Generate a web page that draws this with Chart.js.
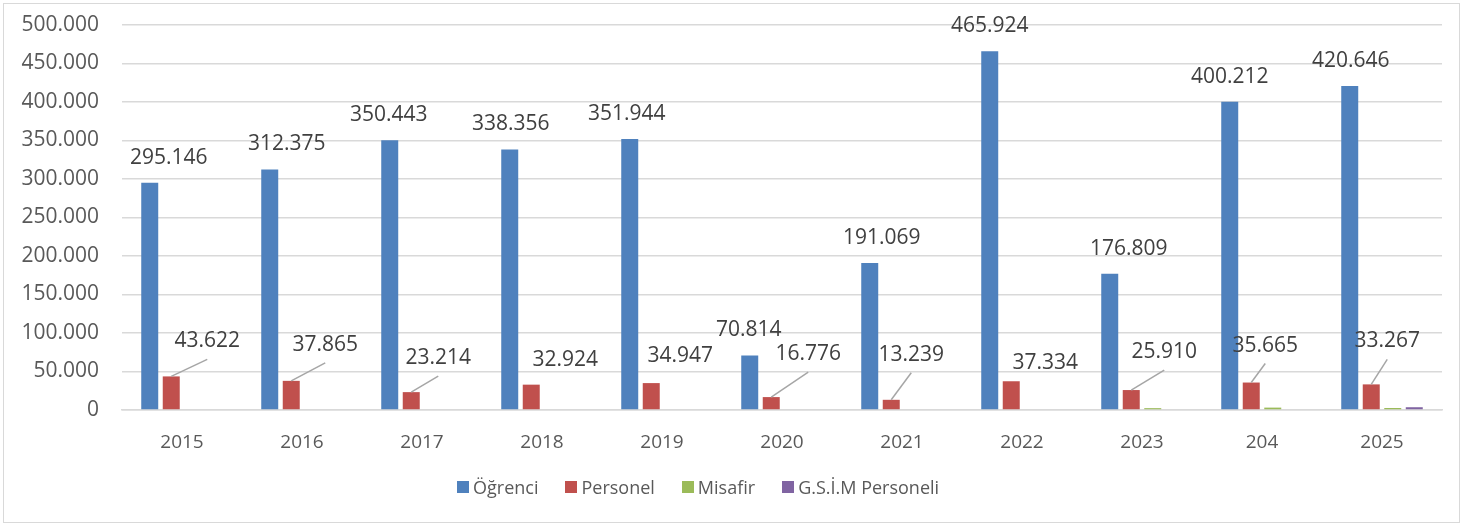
<!DOCTYPE html>
<html>
<head>
<meta charset="utf-8">
<script src="https://cdn.jsdelivr.net/npm/chart.js@4"></script>
<style>
    body { margin: 0; background: #fff; }
    #wrap { position: relative; width: 1474px; height: 526px; }
    #frame { position: absolute; left: 3px; top: 3px; width: 1455px; height: 518px; border: 1.5px solid #d9d9d9; pointer-events: none; }
    #legend { position: absolute; left: 457px; top: 475px; display: flex; font-family: "Open Sans", sans-serif; font-size: 18px; color: #595959; }
    .item { display: flex; align-items: center; margin-right: 27px; white-space: nowrap; }
    .box { width: 12px; height: 12px; margin-right: 4px; }
</style>
</head>
<body>
<div id="wrap">
    <canvas id="chart" width="1474" height="526"></canvas>
    <div id="frame"></div>
    <div id="legend"></div>
</div>
<script>
const years = ['2015', '2016', '2017', '2018', '2019', '2020', '2021', '2022', '2023', '204', '2025'];
const ogrenci = [295146, 312375, 350443, 338356, 351944, 70814, 191069, 465924, 176809, 400212, 420646];
const personel = [43622, 37865, 23214, 32924, 34947, 16776, 13239, 37334, 25910, 35665, 33267];
const misafir = [null, null, null, null, null, null, null, null, 2400, 3100, 2600];
const gsim = [null, null, null, null, null, null, null, null, null, null, 3600];

const seriesNames = ['Öğrenci', 'Personel', 'Misafir', 'G.S.İ.M Personeli'];
const colors = ['#4f81bd', '#c0504d', '#9bbb59', '#8064a2'];

// label placement (text centre relative to bar top)
const ogrLabelDx = [19, 17, -1, 1, -3, -1, 12, 0, 19, 0, 1];
const perLabelDx = [36, 34, 27, 34, 29, 37, 20, 34, 33, 14, 16];
const perLabelDy = [-35, -36, -34, -25, -27, -43, -45, -18, -38, -37, -43];
const perLeader = [true, true, true, false, false, true, true, false, true, true, true];

function fmt(v) {
    return String(v).replace(/\B(?=(\d{3})+(?!\d))/g, '.');
}

const labelPlugin = {
    id: 'barLabels',
    afterDatasetsDraw(chart) {
        const ctx = chart.ctx;
        ctx.save();
        ctx.font = '21px "Open Sans"';
        ctx.fillStyle = '#404040';
        ctx.textAlign = 'center';
        ctx.textBaseline = 'middle';

        chart.getDatasetMeta(0).data.forEach(function (bar, i) {
            ctx.fillText(fmt(ogrenci[i]), bar.x + ogrLabelDx[i], bar.y - 25);
        });

        chart.getDatasetMeta(1).data.forEach(function (bar, i) {
            const lx = bar.x + perLabelDx[i];
            const ly = bar.y + perLabelDy[i];
            if (perLeader[i]) {
                ctx.strokeStyle = '#a6a6a6';
                ctx.lineWidth = 1.5;
                ctx.beginPath();
                ctx.moveTo(bar.x, bar.y);
                ctx.lineTo(lx, ly + 18);
                ctx.stroke();
            }
            ctx.fillText(fmt(personel[i]), lx, ly);
        });
        ctx.restore();
    }
};

const datasets = [ogrenci, personel, misafir, gsim].map(function (values, i) {
    return {
        label: seriesNames[i],
        data: values,
        backgroundColor: colors[i],
        categoryPercentage: 0.717,
        barPercentage: 0.79
    };
});

new Chart(document.getElementById('chart'), {
    type: 'bar',
    data: { labels: years, datasets: datasets },
    plugins: [labelPlugin],
    options: {
        responsive: false,
        animation: false,
        layout: { padding: { top: 25, right: 32, bottom: 0, left: 0 } },
        plugins: {
            legend: { display: false },
            tooltip: { enabled: false }
        },
        scales: {
            x: {
                afterFit: function (s) { s.height = 116; },
                grid: { display: false },
                border: { color: '#d9d9d9', width: 1.5 },
                ticks: {
                    padding: 13,
                    color: '#595959',
                    font: { family: 'Open Sans', size: 19 }
                }
            },
            y: {
                min: 0,
                max: 500000,
                afterFit: function (s) {
                    s.width = 122;
                    s.paddingTop = 0;
                    s.paddingBottom = 0;
                },
                border: { display: false },
                grid: { color: '#d9d9d9', lineWidth: 1.5, drawTicks: false },
                ticks: {
                    stepSize: 50000,
                    padding: 23,
                    color: '#595959',
                    font: { family: 'Open Sans', size: 21 },
                    callback: function (v) { return fmt(v); }
                }
            }
        }
    }
});

const legend = document.getElementById('legend');
seriesNames.forEach(function (name, i) {
    const item = document.createElement('div');
    item.className = 'item';
    const box = document.createElement('span');
    box.className = 'box';
    box.style.background = colors[i];
    const text = document.createElement('span');
    text.textContent = name;
    item.appendChild(box);
    item.appendChild(text);
    legend.appendChild(item);
});
</script>
</body>
</html>
